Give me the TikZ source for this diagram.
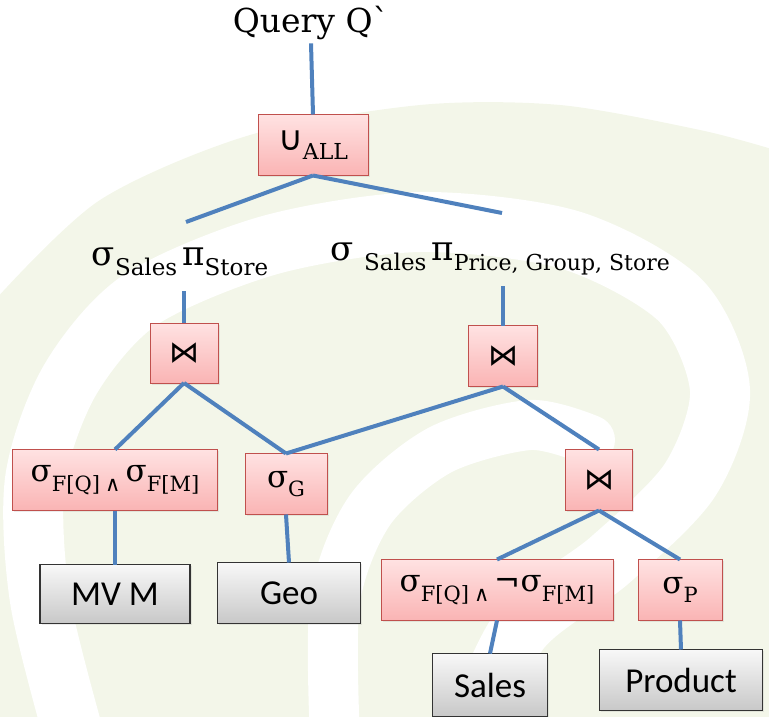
\documentclass[tikz,border=0pt]{standalone}
\usepackage{fontspec}
\setmainfont{DejaVu Serif}
\newfontfamily\boxfont{Carlito}
\newfontfamily\opfont{DejaVu Sans}
\usetikzlibrary{shadows}

\definecolor{linkblue}{RGB}{79,129,189}
\definecolor{opline}{RGB}{192,80,77}
\definecolor{optop}{RGB}{255,226,226}
\definecolor{opbot}{RGB}{250,180,180}
\definecolor{tabtop}{RGB}{248,248,248}
\definecolor{tabbot}{RGB}{200,200,200}
\definecolor{swirl}{RGB}{243,246,233}

% lowered subscript text
\newcommand{\lowtext}[2][21]{\raisebox{-0.3em}{\fontsize{#1}{#1}\selectfont #2}}

\tikzset{
	opbox/.style={
		rectangle,
		draw=opline,
		line width=0.8pt,
		top color=optop,
		bottom color=opbot,
		inner sep=0pt,
		outer sep=0pt,
		font=\fontsize{31}{31}\selectfont,
		drop shadow={opacity=0.15, shadow xshift=1.5pt, shadow yshift=-1.5pt}
	},
	tabbox/.style={
		rectangle,
		draw=black!80,
		line width=1.2pt,
		top color=tabtop,
		bottom color=tabbot,
		inner sep=0pt,
		outer sep=0pt,
		font=\boxfont\fontsize{35}{35}\selectfont,
		drop shadow={opacity=0.15, shadow xshift=1.5pt, shadow yshift=-1.5pt}
	},
	link/.style={linkblue, line width=4pt}
}

\begin{document}
\begin{tikzpicture}[x=1pt, y=-1pt]
			\useasboundingbox (0,0) rectangle (769,717);

			% faint swirl in the background
			\fill[swirl] plot[smooth] coordinates {(-5,300) (100,200) (250,135) (420,105) (560,105) (700,130) (775,150)} -- (775,722) -- (-5,722) -- cycle;
			\draw[white, line width=60pt] plot[smooth] coordinates {(75,740) (40,600) (35,480) (70,380) (140,300) (270,245) (420,222) (570,240) (680,300) (720,390) (690,480) (610,560) (520,630) (470,740)};
			\draw[white, line width=50pt, line cap=round] plot[smooth] coordinates {(335,740) (335,600) (370,510) (440,450) (530,425) (590,440)};

			% operators and tables
			\node[font=\fontsize{33}{33}\selectfont] (query) at (311,23) {Query Q\textasciigrave};
			\node[opbox, minimum width=110pt, minimum height=61pt] (union) at (313,145) {{\opfont\fontsize{34}{34}\selectfont ∪}\lowtext[22]{ALL}};

			\node[font=\fontsize{34}{34}\selectfont] (projL) at (180,262) {σ\lowtext[23]{Sales}\hspace{0.15em}π\lowtext[23]{Store}};
			\node[font=\fontsize{34}{34}\selectfont] (projR) at (500,259) {σ \lowtext[23]{Sales}\hspace{0.15em}π\lowtext[22]{Price, Group, Store}};

			\node[opbox, minimum width=68pt, minimum height=60pt] (joinL) at (184,353) {\opfont\fontsize{30}{30}\selectfont ⋈};
			\node[opbox, minimum width=69pt, minimum height=61pt] (joinR) at (503,356) {\opfont\fontsize{30}{30}\selectfont ⋈};

			\node[opbox, minimum width=205pt, minimum height=61pt] (selFM) at (115,480) {σ\lowtext{F[Q]}\,\lowtext{\opfont ∧}\,σ\lowtext{F[M]}};
			\node[opbox, minimum width=82pt, minimum height=61pt] (selG) at (286,484) {σ\lowtext{G}};
			\node[opbox, minimum width=67pt, minimum height=61pt] (joinB) at (599,480) {\opfont\fontsize{30}{30}\selectfont ⋈};

			\node[tabbox, minimum width=150pt, minimum height=59pt] (mvm) at (115,594) {MV M};
			\node[tabbox, minimum width=143pt, minimum height=61pt] (geo) at (289,593) {Geo};
			\node[opbox, minimum width=232pt, minimum height=61pt] (selNot) at (497,590) {σ\lowtext{F[Q]}\,\lowtext{\opfont ∧}\,{\opfont ¬}σ\lowtext{F[M]}};
			\node[opbox, minimum width=84pt, minimum height=61pt] (selP) at (680,590) {σ\lowtext{P}};

			\node[tabbox, minimum width=115pt, minimum height=63pt] (sales) at (490,685) {Sales};
			\node[tabbox, minimum width=163pt, minimum height=61pt] (product) at (681,680) {Product};

			% free ends of the connectors near the labels
			\coordinate (tipL) at (186,222);
			\coordinate (tipR) at (502,213);
			\coordinate (footL) at (184,291);
			\coordinate (footR) at (503,286);

			% connectors
			\draw[link] (query.south) -- (union.north);
			\draw[link] (union.south) -- (tipL);
			\draw[link] (union.south) -- (tipR);
			\draw[link] (footL) -- (joinL.north);
			\draw[link] (footR) -- (joinR.north);
			\draw[link] (joinL.south) -- (selFM.north);
			\draw[link] (joinL.south) -- (selG.north);
			\draw[link] (joinR.south) -- (selG.north);
			\draw[link] (joinR.south) -- (joinB.north);
			\draw[link] (selFM.south) -- (mvm.north);
			\draw[link] (selG.south) -- (geo.north);
			\draw[link] (joinB.south) -- (selNot.north);
			\draw[link] (joinB.south) -- (selP.north);
			\draw[link] (selNot.south) -- (sales.north);
			\draw[link] (selP.south) -- (product.north);
		\end{tikzpicture}
\end{document}
